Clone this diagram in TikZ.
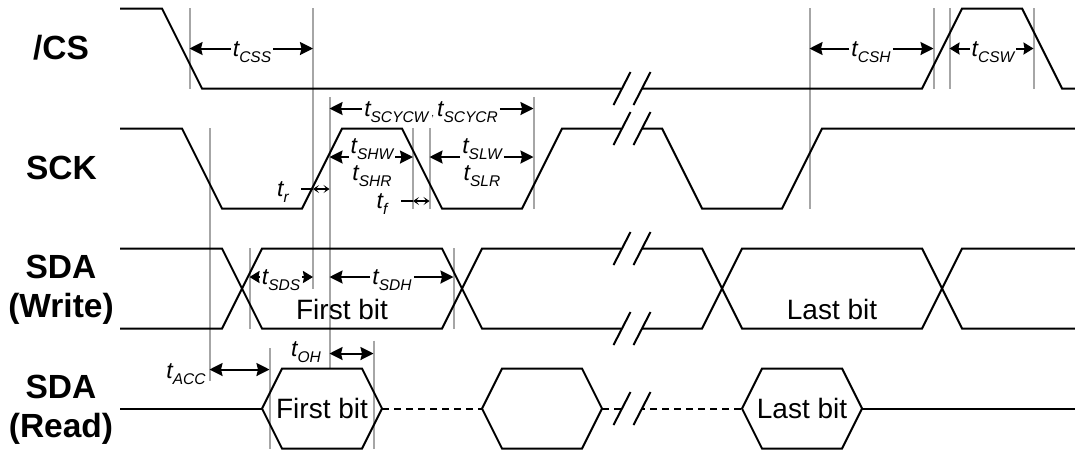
\documentclass[tikz,border=0pt]{standalone}
\usepackage{fontspec}
\setmainfont{Liberation Sans}
\usetikzlibrary{arrows.meta}

\newcommand{\tname}[1]{{\fontsize{23}{23}\selectfont\itshape t}\raisebox{-6pt}{\fontsize{15.5}{15.5}\selectfont\itshape #1}}

\tikzset{
  sig/.style={line width=2pt, line join=miter},
  guide/.style={line width=2pt, black!35},
  dim/.style={line width=2pt, -{Stealth[length=13pt,width=13pt,inset=1.5pt]}},
  short dim/.style={line width=2pt, -{Stealth[length=10pt,width=12pt,inset=1pt]}},
  both dim/.style={line width=2pt, {Stealth[length=13pt,width=13pt,inset=1.5pt]}-{Stealth[length=13pt,width=13pt,inset=1.5pt]}},
  thin dim/.style={line width=1.5pt, {Stealth[length=6pt,width=8pt,inset=3pt]}-{Stealth[length=6pt,width=8pt,inset=3pt]}},
  rowname/.style={font=\fontsize{33.5}{39}\selectfont\bfseries, align=center, inner sep=0pt},
  bitname/.style={font=\fontsize{28}{30}\selectfont, inner sep=0pt},
  tlabel/.style={inner sep=2pt}
}

\begin{document}
\begin{tikzpicture}[x=1pt,y=-1pt]
  \useasboundingbox (0,0) rectangle (1075,451);

  % Repères verticaux
  \coordinate (gA) at (189.5,8);
  \coordinate (gB) at (313,8);
  \coordinate (gC) at (329.5,97);
  \coordinate (gD) at (209.5,128);
  \coordinate (gE) at (413,128);
  \coordinate (gF) at (429.5,128);
  \coordinate (gG) at (533.5,97);
  \coordinate (gH) at (249.5,248);
  \coordinate (gI) at (453.5,248);
  \coordinate (gJ) at (269.5,348);
  \coordinate (gK) at (373.5,340.5);
  \coordinate (gL) at (809.5,8);
  \coordinate (gM) at (933.5,8);
  \coordinate (gN) at (949.5,8);
  \coordinate (gO) at (1033.5,8);
  \draw[guide] (gA) -- (gA |- 0,89);
  \draw[guide] (gB) -- (gB |- 0,289);
  \draw[guide] (gC) -- (gC |- 0,368);
  \draw[guide] (gD) -- (gD |- 0,381);
  \draw[guide] (gE) -- (gE |- 0,209);
  \draw[guide] (gF) -- (gF |- 0,209);
  \draw[guide] (gG) -- (gG |- 0,209);
  \draw[guide] (gH) -- (gH |- 0,329);
  \draw[guide] (gI) -- (gI |- 0,329);
  \draw[guide] (gJ) -- (gJ |- 0,449);
  \draw[guide] (gK) -- (gK |- 0,449);
  \draw[guide] (gL) -- (gL |- 0,209);
  \draw[guide] (gM) -- (gM |- 0,89);
  \draw[guide] (gN) -- (gN |- 0,89);
  \draw[guide] (gO) -- (gO |- 0,89);

  % Signaux
  \draw[sig] (120,8.5) -- (162,8.5) -- (202,88.5) -- (922,88.5) -- (962,8.5) -- (1022,8.5) -- (1062,88.5) -- (1075,88.5);
  \draw[sig] (120,128.5) -- (182,128.5) -- (222,208.5) -- (302,208.5) -- (342,128.5) -- (402,128.5) -- (442,208.5) -- (522,208.5) -- (562,128.5) -- (662,128.5) -- (702,208.5) -- (782,208.5) -- (822,128.5) -- (1075,128.5);
  \draw[sig] (120,248.5) -- (222,248.5) -- (262,328.5) -- (442,328.5) -- (482,248.5) -- (702,248.5) -- (742,328.5) -- (922,328.5) -- (962,248.5) -- (1075,248.5);
  \draw[sig] (120,328.5) -- (222,328.5) -- (262,248.5) -- (442,248.5) -- (482,328.5) -- (702,328.5) -- (742,248.5) -- (922,248.5) -- (962,328.5) -- (1075,328.5);
  \draw[sig] (120,408.5) -- (262,408.5);
  \draw[sig] (262,408.5) -- (282,368.5) -- (362,368.5) -- (382,408.5) -- (362,448.5) -- (282,448.5) -- cycle;
  \draw[sig] (482,408.5) -- (502,368.5) -- (582,368.5) -- (602,408.5) -- (582,448.5) -- (502,448.5) -- cycle;
  \draw[sig] (742,408.5) -- (762,368.5) -- (842,368.5) -- (862,408.5) -- (842,448.5) -- (762,448.5) -- cycle;
  \draw[sig] (862,408.5) -- (1075,408.5);
  \draw[sig, dash pattern=on 7pt off 5pt] (382,408.5) -- (482,408.5);
  \draw[sig, dash pattern=on 7pt off 5pt] (602,408.5) -- (742,408.5);

  % Coupures
  \foreach \yb in {88.5,128.5,248.5,328.5,408.5} {
    \fill[white] (621,\yb-2) rectangle (642,\yb+2);
    \draw[sig] (613.5,\yb+16.5) -- (630.5,\yb-16.5);
    \draw[sig] (633.5,\yb+16.5) -- (650.5,\yb-16.5);
  }

  % Noms des lignes
  \node[rowname] (cs) at (61,48) {/CS};
  \node[rowname] (sck) at (61.5,168) {SCK};
  \node[rowname] (write) at (61,290) {SDA\\(Write)};
  \node[rowname] (read) at (61,410) {SDA\\(Read)};

  % Bits
  \node[bitname] (firstw) at (342,309) {First bit};
  \node[bitname] (lastw) at (832,309) {Last bit};
  \node[bitname] (firstr) at (322,408) {First bit};
  \node[bitname] (lastr) at (802,408) {Last bit};

  % Temps
  \node[tlabel] (tCSS) at (252,52) {\tname{CSS}};
  \draw[dim] (tCSS.west |- 0,48.5) -- (gA |- 0,48.5);
  \draw[dim] (tCSS.east |- 0,48.5) -- (gB |- 0,48.5);
  \node[tlabel] (tCSH) at (871,52) {\tname{CSH}};
  \draw[dim] (tCSH.west |- 0,48.5) -- (gL |- 0,48.5);
  \draw[dim] (tCSH.east |- 0,48.5) -- (gM |- 0,48.5);
  \node[tlabel] (tCSW) at (993,52) {\tname{CSW}};
  \draw[short dim] (tCSW.west |- 0,48.5) -- (gN |- 0,48.5);
  \draw[short dim] (tCSW.east |- 0,48.5) -- (gO |- 0,48.5);
  \node[tlabel] (tSCYC) at (431,112) {\tname{SCYCW}\hspace{3pt},\hspace{3pt}\tname{SCYCR}};
  \draw[dim] (tSCYC.west |- 0,108.5) -- (gC |- 0,108.5);
  \draw[dim] (tSCYC.east |- 0,108.5) -- (gG |- 0,108.5);
  \node[tlabel] (tSHW) at (372,149) {\tname{SHW}};
  \node[tlabel] (tSHR) at (372,176) {\tname{SHR}};
  \draw[dim] (tSHW.west |- 0,157) -- (gC |- 0,157);
  \draw[dim] (tSHW.east |- 0,157) -- (gE |- 0,157);
  \node[tlabel] (tSLW) at (482,149) {\tname{SLW}};
  \node[tlabel] (tSLR) at (482,176) {\tname{SLR}};
  \draw[dim] (tSLW.west |- 0,157) -- (gF |- 0,157);
  \draw[dim] (tSLW.east |- 0,157) -- (gG |- 0,157);
  \node[tlabel] (tr) at (283,192) {\tname{r}};
  \draw[line width=1.5pt] (301,189) -- (gB |- 0,189);
  \draw[thin dim] (gB |- 0,189) -- (gC |- 0,189);
  \node[tlabel] (tf) at (382,204) {\tname{f}};
  \draw[line width=1.5pt] (401,201) -- (gE |- 0,201);
  \draw[thin dim] (gE |- 0,201) -- (gF |- 0,201);
  \node[tlabel] (tSDS) at (281,280) {\tname{SDS}};
  \draw[short dim] (tSDS.west |- 0,277) -- (gH |- 0,277);
  \draw[short dim] (tSDS.east |- 0,277) -- (gB |- 0,277);
  \node[tlabel] (tSDH) at (392,280) {\tname{SDH}};
  \draw[dim] (tSDH.west |- 0,277) -- (gC |- 0,277);
  \draw[dim] (tSDH.east |- 0,277) -- (gI |- 0,277);
  \node[tlabel] (tACC) at (186,374) {\tname{ACC}};
  \draw[both dim] (gD |- 0,369.5) -- (gJ |- 0,369.5);
  \node[tlabel] (tOH) at (306,352) {\tname{OH}};
  \draw[both dim] (gC |- 0,353.5) -- (gK |- 0,353.5);
\end{tikzpicture}
\end{document}
